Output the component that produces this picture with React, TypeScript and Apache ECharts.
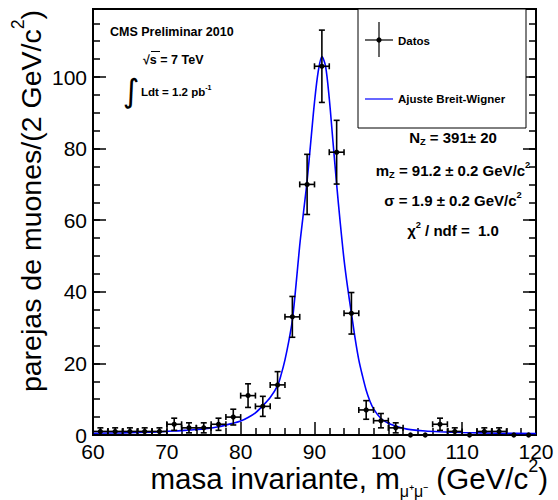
import React, { useEffect, useRef } from "react";
import * as echarts from "echarts";

// Histogram: bin centers (GeV), counts and statistical errors
const binCenters = [61, 63, 65, 67, 69, 71, 73, 75, 77, 79, 81, 83, 85, 87, 89, 91, 93, 95, 97, 99, 101, 103, 105, 107, 109, 111, 113, 115, 117, 119];
const counts = [1, 1, 1, 1, 1, 3, 2, 2, 3, 5, 11, 8, 14, 33, 70, 103, 79, 34, 7, 4, 2, 0, 0, 3, 1, 0, 1, 1, 0, 0];
const errors = [1, 1, 1, 1, 1, 1.7, 1.4, 1.4, 1.7, 2.2, 3.3, 2.8, 3.7, 5.7, 8.4, 10.1, 8.9, 5.8, 2.6, 2, 1.4, 0, 0, 1.7, 1, 0, 1, 1, 0, 0];

// Fit curve (Breit-Wigner)
const fitX = [60, 64, 68, 71, 73, 75, 77, 79, 80, 81, 82, 83, 84, 85, 85.5, 86, 86.5, 87, 87.5, 88, 88.5, 89, 89.5, 90, 90.5, 91, 91.5, 92, 92.5, 93, 93.5, 94, 94.5, 95, 95.5, 96, 96.5, 97, 97.5, 98, 99, 100, 101, 102, 103, 105, 107, 110, 115, 120];
const fitY = [0.5, 0.6, 0.8, 1.1, 1.4, 1.7, 2.3, 3.3, 3.9, 4.9, 6.2, 8.2, 10.5, 13.8, 17, 21, 26, 32, 42, 53, 62, 71, 82, 93, 101.5, 105.7, 103, 94, 82, 70, 59, 49, 41, 34, 27, 21, 16.5, 12.5, 9.5, 7.3, 4.6, 3.3, 2.5, 1.9, 1.5, 1.1, 0.9, 0.7, 0.5, 0.4];

const xTickLabels = [60, 70, 80, 90, 100, 110, 120];
const yTickLabels = [0, 20, 40, 60, 80, 100];
const yMax = 119;

const FONT = "'Liberation Sans', Arial, Helvetica, sans-serif";

function measure(text: string, size: number): number {
  const ctx = document.createElement("canvas").getContext("2d");
  if (!ctx) return text.length * size * 0.55;
  ctx.font = `${size}px ${FONT}`;
  return ctx.measureText(text).width;
}

export default function App() {
  const ref = useRef<HTMLDivElement>(null);

  useEffect(() => {
    if (!ref.current) return;
    const chart = echarts.init(ref.current, undefined, { renderer: "svg" });

    const xMin = xTickLabels[0];
    const xMax = xTickLabels[xTickLabels.length - 1];
    const yMin = yTickLabels[0];

    const tickStyle = { color: "#000", width: 1.5 };
    const baseY = (pos: string, interval: number, len: number, labels: boolean) => ({
      type: "value",
      position: pos,
      min: yMin,
      max: yMax,
      interval,
      axisLine: { show: false },
      axisTick: { show: true, inside: true, length: len, lineStyle: tickStyle },
      splitLine: { show: false },
      axisLabel: labels
        ? { show: true, fontSize: 21, color: "#000", fontFamily: FONT, margin: 6, showMaxLabel: false }
        : { show: false },
    });

    const bold = (size: number) => ({ fontSize: size, fontWeight: "bold", fontFamily: FONT, fill: "#000", color: "#000" });

    const richLine = (size: number) => ({
      n: { fontSize: size, fontWeight: "bold", fontFamily: FONT, color: "#000", lineHeight: size * 1.32, verticalAlign: "middle" },
      sub: { fontSize: size * 0.62, fontWeight: "bold", fontFamily: FONT, color: "#000", lineHeight: size * 0.62, verticalAlign: "bottom" },
      sup: { fontSize: size * 0.62, fontWeight: "bold", fontFamily: FONT, color: "#000", lineHeight: size * 0.62, verticalAlign: "top" },
    });

    const titleRich = (size: number, lh: number, subScale: number) => ({
      n: { fontSize: size, fontFamily: FONT, color: "#000", lineHeight: size * lh, verticalAlign: "middle" },
      sub: { fontSize: size * subScale, fontFamily: FONT, color: "#000", lineHeight: size * subScale, verticalAlign: "bottom" },
      sup: { fontSize: size * 0.62, fontWeight: "normal", fontFamily: FONT, color: "#000", lineHeight: size * 0.62, verticalAlign: "top" },
    });

    // X-axis title built from pieces laid out left to right, right edge at 548
    const xTitleParts = [
      { t: "masa invariante, m", size: 29.5, dy: 0 },
      { t: "μ⁺μ⁻", size: 16, dy: 13 },
      { t: " (GeV/c", size: 29.5, dy: 0 },
      { t: "2", size: 18, dy: -12.5 },
      { t: ")", size: 29.5, dy: 0 },
    ];
    const widths = xTitleParts.map((p) => measure(p.t, p.size));
    const total = widths.reduce((a, b) => a + b, 0);
    let cursor = 548 - total;
    const xTitleY = 478;
    const xTitleEls = xTitleParts.map((p, i) => {
      const el = {
        type: "text",
        x: cursor,
        y: xTitleY + p.dy,
        style: { text: p.t, fontSize: p.size, fontFamily: FONT, fill: "#000", align: "left", verticalAlign: "middle" },
      };
      cursor += widths[i];
      return el;
    });

    const fitCenterX = 453;

    const option = {
      animation: false,
      grid: {
        left: 93,
        right: 22,
        top: 9,
        bottom: 65,
        show: true,
        borderColor: "#000",
        borderWidth: 2,
        backgroundColor: "transparent",
        containLabel: false,
        outerBoundsMode: "none",
      },
      xAxis: [
        {
          type: "value",
          position: "bottom",
          min: xMin,
          max: xMax,
          interval: 10,
          axisLine: { show: false },
          axisTick: { show: true, inside: true, length: 13, lineStyle: tickStyle },
          minorTick: { show: true, splitNumber: 5, length: 7, lineStyle: tickStyle },
          splitLine: { show: false },
          minorSplitLine: { show: false },
          axisLabel: { show: true, fontSize: 21, color: "#000", fontFamily: FONT, margin: 6 },
        },
      ],
      yAxis: [
        baseY("left", 20, 13, true),
        baseY("left", 5, 7, false),
        baseY("right", 20, 13, false),
        baseY("right", 5, 7, false),
      ],
      series: [
        {
          type: "line",
          xAxisIndex: 0,
          yAxisIndex: 0,
          data: fitX.map((x, i) => [x, fitY[i]]),
          smooth: 0.3,
          symbol: "none",
          lineStyle: { color: "#0000ff", width: 1.6 },
          z: 2,
        },
        {
          type: "custom",
          xAxisIndex: 0,
          yAxisIndex: 0,
          clip: false,
          z: 3,
          data: binCenters.map((x, i) => [x, counts[i], errors[i]]),
          encode: { x: 0, y: 1 },
          renderItem: (params: any, api: any) => {
            const x = api.value(0);
            const y = api.value(1);
            const e = api.value(2);
            const c = api.coord([x, y]);
            const st = { stroke: "#000", lineWidth: 1.6 };
            const children: any[] = [];
            if (y > 0) {
              const l = api.coord([x - 1, y]);
              const r = api.coord([x + 1, y]);
              const t = api.coord([x, y + e]);
              const b = api.coord([x, y - e]);
              const cap = 3;
              children.push(
                { type: "line", shape: { x1: l[0], y1: l[1], x2: r[0], y2: r[1] }, style: st },
                { type: "line", shape: { x1: l[0], y1: l[1] - cap, x2: l[0], y2: l[1] + cap }, style: st },
                { type: "line", shape: { x1: r[0], y1: r[1] - cap, x2: r[0], y2: r[1] + cap }, style: st },
                { type: "line", shape: { x1: t[0], y1: t[1], x2: b[0], y2: b[1] }, style: st },
                { type: "line", shape: { x1: t[0] - cap, y1: t[1], x2: t[0] + cap, y2: t[1] }, style: st },
                { type: "line", shape: { x1: b[0] - cap, y1: b[1], x2: b[0] + cap, y2: b[1] }, style: st }
              );
            }
            children.push({ type: "circle", shape: { cx: c[0], cy: c[1], r: 2.6 }, style: { fill: "#000" } });
            return { type: "group", children };
          },
        },
      ],
      graphic: [
        // Axis titles
        ...xTitleEls,
        {
          type: "text",
          x: 31,
          y: 10,
          rotation: Math.PI / 2,
          style: {
            text: "{n|parejas de muones/(2 GeV/c}{sup|2}{n|)}",
            rich: titleRich(28.5, 1.55, 0.6),
            align: "right",
            verticalAlign: "middle",
          },
        },
        // Top-left labels
        { type: "text", x: 110, y: 32, style: { text: "CMS Preliminar 2010", ...bold(12.5), align: "left", verticalAlign: "middle" } },
        { type: "text", x: 143, y: 60, style: { text: "√s = 7 TeV", ...bold(12.5), align: "left", verticalAlign: "middle" } },
        { type: "line", shape: { x1: 151, y1: 51.5, x2: 160, y2: 51.5 }, style: { stroke: "#000", lineWidth: 1 } },
        { type: "text", x: 131, y: 91, style: { text: "∫", fontSize: 32, fontFamily: "'DejaVu Sans', sans-serif", fill: "#000", align: "center", verticalAlign: "middle" } },
        {
          type: "text",
          x: 141,
          y: 92,
          style: { text: "{n|Ldt = 1.2 pb}{sup|-1}", rich: richLine(11.5), align: "left", verticalAlign: "middle" },
        },
        // Legend box
        { type: "rect", shape: { x: 358, y: 9, width: 168, height: 119 }, style: { fill: "#fff", stroke: "#000", lineWidth: 1 }, z: 10 },
        { type: "line", shape: { x1: 379, y1: 22, x2: 379, y2: 57 }, style: { stroke: "#000", lineWidth: 1.2 }, z: 11 },
        { type: "line", shape: { x1: 365, y1: 40, x2: 393, y2: 40 }, style: { stroke: "#000", lineWidth: 1.2 }, z: 11 },
        { type: "circle", shape: { cx: 379, cy: 40, r: 2.6 }, style: { fill: "#000" }, z: 11 },
        { type: "text", x: 398, y: 41, style: { text: "Datos", ...bold(11.5), align: "left", verticalAlign: "middle" }, z: 11 },
        { type: "line", shape: { x1: 365, y1: 99, x2: 393, y2: 99 }, style: { stroke: "#0000ff", lineWidth: 1.2 }, z: 11 },
        { type: "text", x: 398, y: 99, style: { text: "Ajuste Breit-Wigner", ...bold(11.5), align: "left", verticalAlign: "middle" }, z: 11 },
        // Fit results
        {
          type: "text",
          x: fitCenterX,
          y: 137,
          style: { text: "{n|N}{sub|Z}{n| = 391± 20}", rich: richLine(15), align: "center", verticalAlign: "middle" },
        },
        {
          type: "text",
          x: fitCenterX,
          y: 170,
          style: { text: "{n|m}{sub|Z}{n| = 91.2 ± 0.2 GeV/c}{sup|2}", rich: richLine(15), align: "center", verticalAlign: "middle" },
        },
        {
          type: "text",
          x: fitCenterX,
          y: 200,
          style: { text: "{n|σ = 1.9 ± 0.2 GeV/c}{sup|2}", rich: richLine(15), align: "center", verticalAlign: "middle" },
        },
        {
          type: "text",
          x: fitCenterX,
          y: 230,
          style: { text: "{n|χ}{sup|2}{n| / ndf =  1.0}", rich: richLine(15), align: "center", verticalAlign: "middle" },
        },
      ],
    };

    chart.setOption(option as any);
    return () => chart.dispose();
  }, []);

  return (
    <div
      ref={ref}
      style={{ position: "fixed", left: 0, top: 0, width: 558, height: 500, background: "#fff" }}
    />
  );
}
